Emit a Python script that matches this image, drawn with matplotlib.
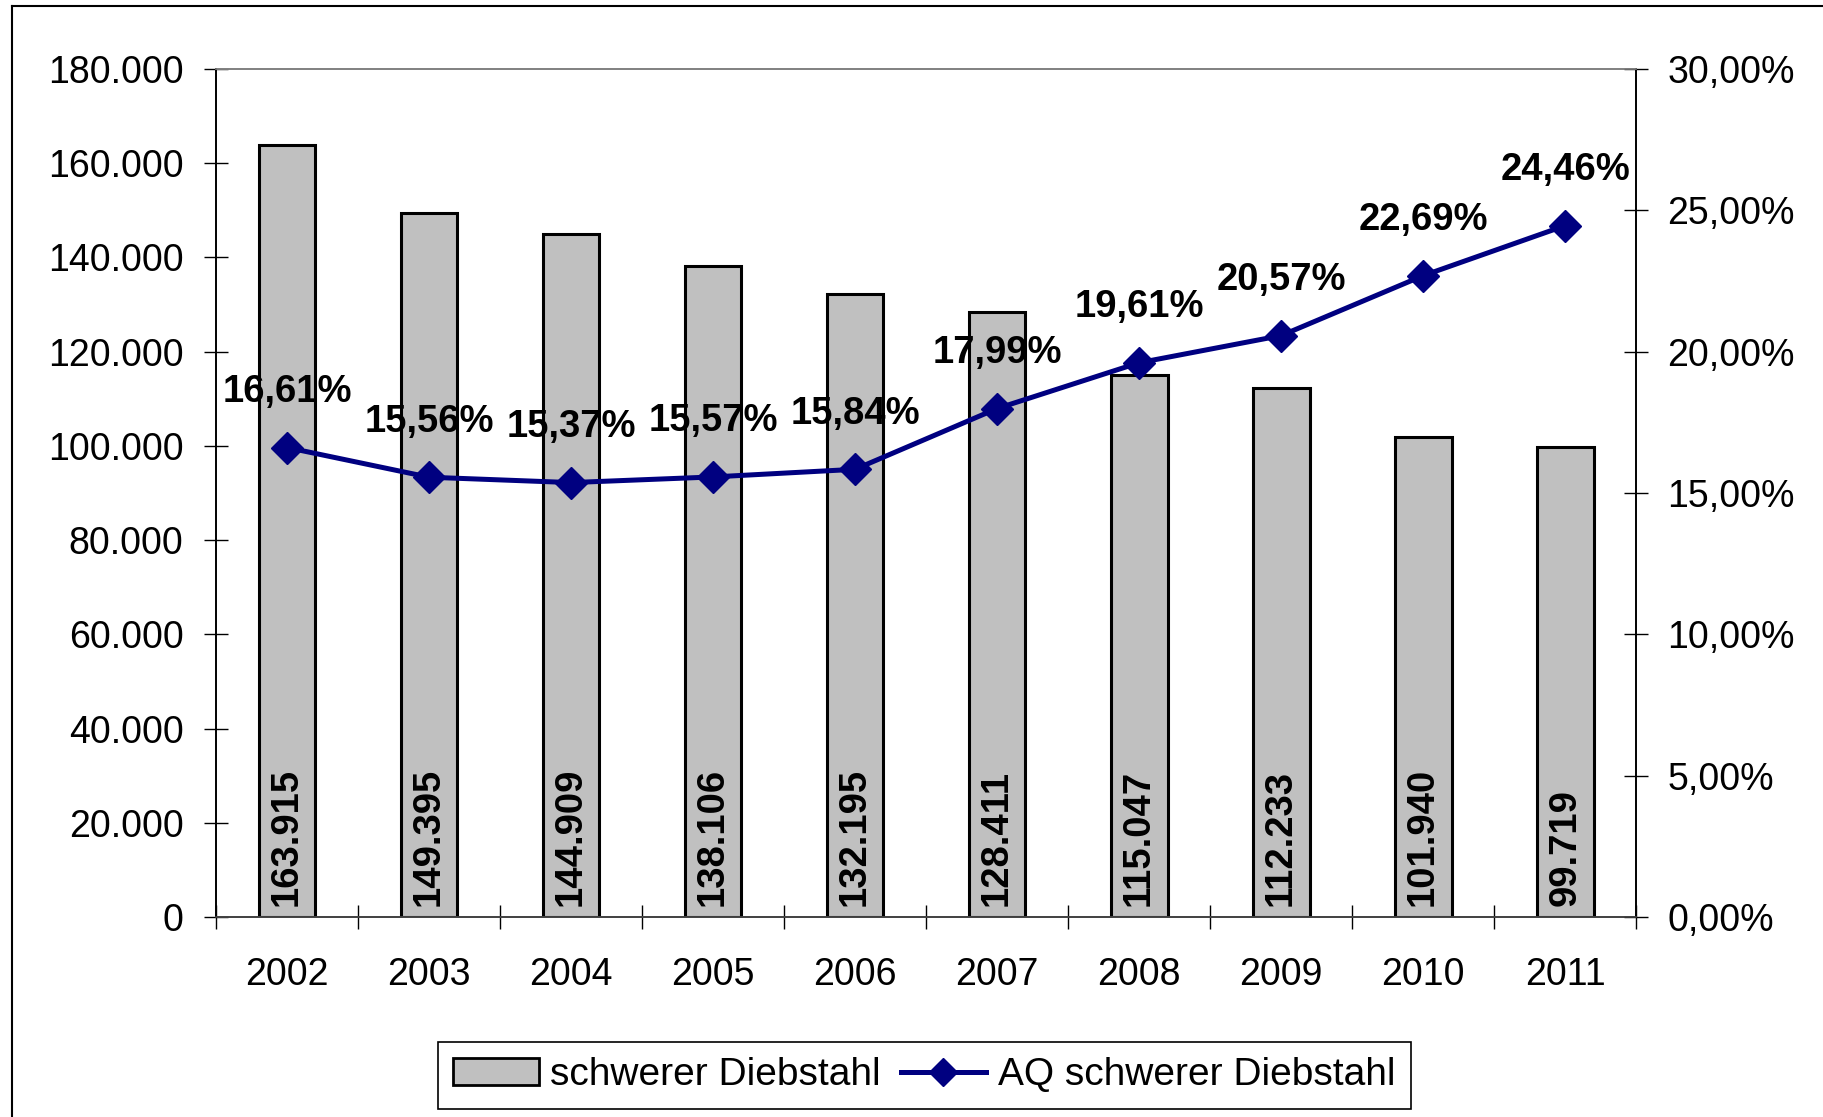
import matplotlib.pyplot as plt
from matplotlib.lines import Line2D
from matplotlib.patches import Patch
from matplotlib.ticker import FuncFormatter, MultipleLocator

plt.rcParams['font.family'] = ['Liberation Sans', 'DejaVu Sans']

# Data
years = ['2002', '2003', '2004', '2005', '2006', '2007', '2008', '2009', '2010', '2011']
faelle = [163915, 149395, 144909, 138106, 132195, 128411, 115047, 112233, 101940, 99719]
aq = [16.61, 15.56, 15.37, 15.57, 15.84, 17.99, 19.61, 20.57, 22.69, 24.46]

def de_int(v):
    return f'{int(round(v)):,}'.replace(',', '.')

def de_pct(v):
    return f'{v:.2f}'.replace('.', ',') + '%'

fig = plt.figure(figsize=(18.23, 11.17), dpi=100)
ax = fig.add_axes([0.1185, 0.179, 0.779, 0.7592])
ax2 = ax.twinx()

x = list(range(len(years)))

# Bars
ax.bar(x, faelle, width=0.4, color='#C0C0C0', edgecolor='black', linewidth=2.2, zorder=2)
for xi, v in zip(x, faelle):
    ax.annotate(de_int(v), (xi, 0), xytext=(0, 8), textcoords='offset points',
                rotation=90, ha='center', va='bottom', fontsize=27.5, fontweight='bold')

# Line
ax2.plot(x, [v / 100 for v in aq], color='#000080', linewidth=3.6, marker='D', markersize=16, zorder=3)
for xi, v in zip(x, aq):
    ax2.annotate(de_pct(v), (xi, v / 100), xytext=(0, 40), textcoords='offset points',
                 ha='center', va='center', fontsize=27.5, fontweight='bold')

# Axes
ax.set_xlim(-0.5, len(years) - 0.5)
ax.set_ylim(0, 180000)
ax2.set_ylim(0, 0.30)
ax.yaxis.set_major_locator(MultipleLocator(20000))
ax2.yaxis.set_major_locator(MultipleLocator(0.05))
ax.yaxis.set_major_formatter(FuncFormatter(lambda v, p: de_int(v)))
ax2.yaxis.set_major_formatter(FuncFormatter(lambda v, p: de_pct(v * 100)))

ax.set_xticks(x)
ax.set_xticklabels(years)
ax.set_xticks([i - 0.5 for i in range(len(years) + 1)], minor=True)
ax.tick_params(axis='x', which='major', length=0, pad=29, labelsize=27)
ax.tick_params(axis='x', which='minor', direction='inout', length=17, width=1)
ax.tick_params(axis='y', direction='inout', length=17, width=1, pad=15, labelsize=27)
ax2.tick_params(axis='y', direction='inout', length=17, width=1, pad=14, labelsize=27)

for a in (ax, ax2):
    a.spines['top'].set_color('#808080')
    a.spines['bottom'].set_color('#404040')
    a.spines['left'].set_color('black')
    a.spines['right'].set_color('black')
    for s in a.spines.values():
        s.set_linewidth(1.2)

# Outer frame (only top and left edges visible in the crop)
fig.add_artist(Line2D([12 / 1823, 12 / 1823], [0, 1 - 6 / 1117], color='black', linewidth=1.5,
                      transform=fig.transFigure))
fig.add_artist(Line2D([12 / 1823, 1], [1 - 6 / 1117, 1 - 6 / 1117], color='black', linewidth=1.5,
                      transform=fig.transFigure))

# Legend
handles = [Patch(facecolor='#C0C0C0', edgecolor='black', linewidth=2),
           Line2D([], [], color='#000080', linewidth=3.6, marker='D', markersize=14)]
leg = fig.legend(handles, ['schwerer Diebstahl', 'AQ schwerer Diebstahl'], ncol=2,
                 loc='center', bbox_to_anchor=(0.507, 0.0372), fontsize=28, frameon=True,
                 fancybox=False, edgecolor='black', handlelength=2.2, handletextpad=0.3,
                 columnspacing=0.5, borderpad=0.4, framealpha=1)
leg.get_frame().set_linewidth(1.2)

fig.savefig('out.png', dpi=100)
